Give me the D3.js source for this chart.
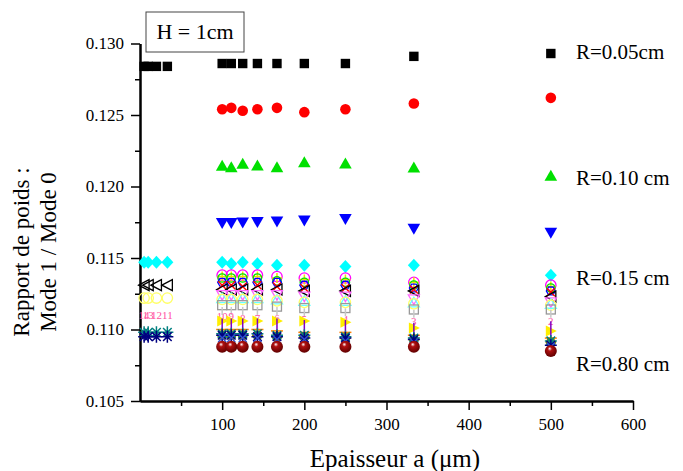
<!DOCTYPE html>
<html><head><meta charset="utf-8">
<script src="https://cdn.jsdelivr.net/npm/d3@7/dist/d3.min.js"></script>
<style>body{margin:0;background:#fff}svg{display:block}text{font-family:"Liberation Serif","Times New Roman",serif}</style>
</head><body><svg id="c" width="683" height="471"></svg>
<script>
// ---- data ----
const xValues = [5, 10, 20, 33.3, 100, 111.1, 125, 142.9, 166.7, 200, 250, 333.3, 500];
const rowNumbers = [14, 13, 12, 11, 10, 9, 8, 7, 6, 5, 4, 3, 2];
const N = null;
const sBlackSquare = [0.1284,0.1284,0.1284,0.1284, 0.1286,0.1286,0.1286,0.1286,0.1286,0.1286,0.1286,0.1291,0.1293];
const sRedCircle   = [N,N,N,N, 0.1254,0.1255,0.1253,0.1254,0.1255,0.1252,0.1254,0.1258,0.1262];
const sGreenUp     = [N,N,N,N, 0.12145,0.12135,0.12159,0.12147,0.12135,0.1217,0.12161,0.12133,0.12075];
const sBlueDown    = [N,N,N,N, 0.11744,0.11744,0.11749,0.11751,0.11756,0.11763,0.11772,0.11705,0.11677];
const sCyanDiamond = [0.1147,0.1147,0.1147,0.1147, 0.1147,0.1146,0.1147,0.1146,0.1145,0.1145,0.1144,0.1145,0.1138];
const sMagentaRing = [N,N,N,N, 0.1138,0.1138,0.1138,0.1138,0.1137,0.1136,0.1136,0.1133,0.1131];
const sYellowPlus  = [N,N,N,N, 0.1137,0.1137,0.1137,0.1137,0.1136,0.1135,0.1135,0.1133,0.1130];
const sGreenRing   = [N,N,N,N, 0.1136,0.1136,0.1136,0.1136,0.1134,0.1133,0.1133,0.1131,0.1129];
const sBlueHex     = [N,N,N,N, 0.1133,0.1133,0.1133,0.1133,0.1133,0.1131,0.1131,0.1129,0.1127];
const sRedX        = [N,N,N,N, 0.1131,0.1131,0.1130,0.1131,0.1130,0.1129,0.1129,0.1128,0.1126];
const sBlackLeft   = [0.1131,0.1131,0.1131,0.1131, 0.1128,0.1128,0.1128,0.1128,0.1128,0.1127,0.1127,0.1127,0.1123];
const sMagentaDown = [N,N,N,N, 0.1124,0.1124,0.1124,0.1124,0.1124,0.1123,0.1123,0.1121,0.1119];
const sCyanUpOpen  = [N,N,N,N, 0.1122,0.1122,0.1122,0.1122,0.1121,0.1120,0.1120,0.1119,0.1118];
const sYellowRing  = [0.1122,0.1122,0.1122,0.1122, 0.1121,0.1121,0.1121,0.1121,0.1120,0.1119,0.1119,0.1118,0.1117];
const sGraySquare  = [N,N,N,N, 0.1117,0.1117,0.1117,0.1117,0.1116,0.1115,0.1115,0.1114,0.1114];
const sLightGray   = [N,N,N,N, 0.1113,0.1113,0.1113,0.1113,0.1113,0.1112,0.1112,0.1111,0.1111];
const sPinkNumber  = [0.1110,0.1110,0.1110,0.1110, 0.1109,0.1109,0.1108,0.1108,0.1108,0.1107,0.1107,0.1106,0.1106];
const sYellowRight = [N,N,N,N, 0.1106,0.1106,0.1106,0.1106,0.1106,0.1106,0.1105,0.1101,0.1099];
const sPurpleBar   = [N,N,N,N, 0.1100,0.1100,0.1100,0.1100,0.1100,0.1099,0.1099,0.1097,0.1098];
const sOrangeBar   = [N,N,N,N, 0.1100,0.1100,0.1100,0.1100,0.1099,0.1098,0.1098,0.1096,0.1094];
const sOliveHex    = [N,N,N,N, 0.1096,0.1096,0.1096,0.1096,0.1095,0.1095,0.1094,0.1093,0.1091];
const sDarkCyanX   = [0.1098,0.1098,0.1098,0.1098, 0.1097,0.1097,0.1097,0.1097,0.1096,0.1096,0.1095,0.1094,0.1092];
const sNavyStar    = [0.1095,0.1095,0.1095,0.1095, 0.1096,0.1096,0.1096,0.1095,0.1095,0.1094,0.1094,0.1093,0.1089];
const sRoyalX      = [N,N,N,N, 0.1094,0.1094,0.1094,0.1094,0.1093,0.1093,0.1092,0.1091,0.1088];
const sWineSphere  = [N,N,N,N, 0.1088,0.1088,0.1088,0.1088,0.1088,0.1088,0.1088,0.1088,0.1085];

const yTickValues = [0.105, 0.110, 0.115, 0.120, 0.125, 0.130];
const yMinorValues = [0.1075, 0.1125, 0.1175, 0.1225, 0.1275];
const xTickValues = [100, 200, 300, 400, 500, 600];
const xMinorValues = [50, 150, 250, 350, 450, 550];
const rLabels = [
  {text: "R=0.05cm", value: 0.1294},
  {text: "R=0.10 cm", value: 0.1206},
  {text: "R=0.15 cm", value: 0.1136},
  {text: "R=0.80 cm", value: 0.1076}
];

// ---- styles (separate from data) ----
const series = [
  [sBlackSquare, "square", "#000"],
  [sRedCircle, "circle", "#ff0000"],
  [sGreenUp, "triUp", "#00e000"],
  [sBlueDown, "triDown", "#0000ff"],
  [sCyanDiamond, "diamond", "#00ffff"],
  [sMagentaRing, "ring", "#ff00ff"],
  [sYellowPlus, "plus", "#f0e000"],
  [sGreenRing, "ringSmall", "#00e000"],
  [sBlueHex, "hexOpen", "#0000ff"],
  [sRedX, "x", "#ff0000"],
  [sBlackLeft, "leftOpen", "#000"],
  [sMagentaDown, "downOpen", "#ff66ff"],
  [sCyanUpOpen, "upOpen", "#66ffff"],
  [sYellowRing, "ring", "#ffff66"],
  [sGraySquare, "squareOpen", "#999"],
  [sLightGray, "vbarShort", "#c8c8c8"],
  [sPinkNumber, "number", "#ff4fa0"],
  [sYellowRight, "rightFill", "#ffee00"],
  [sPurpleBar, "vbar", "#8000c0"],
  [sOrangeBar, "hbar", "#ff8000"],
  [sOliveHex, "hexFill", "#808000"],
  [sDarkCyanX, "star", "#008080"],
  [sNavyStar, "star", "#000080"],
  [sRoyalX, "x", "#3050d0"],
  [sWineSphere, "sphere", "#800000"]
];

const svg = d3.select("#c");
svg.append("rect").attr("width",683).attr("height",471).attr("fill","#fff");
const defs = svg.append("defs");
const grad = defs.append("radialGradient").attr("id","sph").attr("cx","0.45").attr("cy","0.4").attr("r","0.6").attr("fx","0.4").attr("fy","0.3");
grad.append("stop").attr("offset","0").attr("stop-color","#ffffff");
grad.append("stop").attr("offset","0.3").attr("stop-color","#b01010");
grad.append("stop").attr("offset","1").attr("stop-color","#600000");

const x = d3.scaleLinear().domain([0, 600]).range([140, 633]);
const y = d3.scaleLinear().domain([0.105, 0.130]).range([401, 43.5]);

// axes
function styleAxis(g){
  g.selectAll(".domain").attr("stroke","#000").attr("stroke-width",2);
  g.selectAll(".tick line").attr("stroke","#000").attr("stroke-width",1.5);
  g.selectAll("text").attr("font-family",'"Liberation Serif",serif').attr("font-size",17).attr("fill","#000");
}
const gy = svg.append("g").attr("transform","translate(140,0)")
  .call(d3.axisLeft(y).tickValues(yTickValues).tickFormat(d3.format(".3f")).tickSize(9).tickSizeOuter(0).tickPadding(7));
styleAxis(gy);
const gym = svg.append("g").attr("transform","translate(140,0)")
  .call(d3.axisLeft(y).tickValues(yMinorValues).tickFormat("").tickSize(5).tickSizeOuter(0));
styleAxis(gym);
const gx = svg.append("g").attr("transform","translate(0,401)")
  .call(d3.axisBottom(x).tickValues(xTickValues).tickFormat(d3.format("d")).tickSize(9).tickSizeOuter(0).tickPadding(8));
styleAxis(gx);
const gxm = svg.append("g").attr("transform","translate(0,401)")
  .call(d3.axisBottom(x).tickValues(xMinorValues).tickFormat("").tickSize(5).tickSizeOuter(0));
styleAxis(gxm);

// symbols
function drawSym(g, type, color, row){
  const sw = 1.3;
  switch(type){
    case "square": g.append("rect").attr("x",-4.7).attr("y",-4.7).attr("width",9.4).attr("height",9.4).attr("fill",color); break;
    case "circle": g.append("circle").attr("r",5.3).attr("fill",color); break;
    case "triUp": g.append("path").attr("d","M0,-6L6.3,5L-6.3,5Z").attr("fill",color); break;
    case "triDown": g.append("path").attr("d","M0,6L6.3,-5L-6.3,-5Z").attr("fill",color); break;
    case "diamond": g.append("path").attr("d","M0,-6.5L6,0L0,6.5L-6,0Z").attr("fill",color); break;
    case "ring": g.append("circle").attr("r",5.2).attr("fill","none").attr("stroke",color).attr("stroke-width",sw); break;
    case "ringSmall": g.append("circle").attr("r",4.2).attr("fill","none").attr("stroke",color).attr("stroke-width",sw); break;
    case "plus": g.append("path").attr("d","M-5,0H5M0,-5V5").attr("stroke",color).attr("stroke-width",1.5); break;
    case "x": g.append("path").attr("d","M-4,-4L4,4M-4,4L4,-4").attr("stroke",color).attr("stroke-width",1.4); break;
    case "hexOpen": g.append("path").attr("d",hexPath(4.5)).attr("fill","none").attr("stroke",color).attr("stroke-width",sw); break;
    case "hexFill": g.append("path").attr("d",hexPath(5.5)).attr("fill",color); break;
    case "leftOpen": g.append("path").attr("d","M-5.5,0L5,-5.5L5,5.5Z").attr("fill","none").attr("stroke",color).attr("stroke-width",sw); break;
    case "downOpen": g.append("path").attr("d","M0,5L5.5,-4.5L-5.5,-4.5Z").attr("fill","none").attr("stroke",color).attr("stroke-width",sw); break;
    case "upOpen": g.append("path").attr("d","M0,-5L5.5,4.5L-5.5,4.5Z").attr("fill","none").attr("stroke",color).attr("stroke-width",sw); break;
    case "squareOpen": g.append("rect").attr("x",-4.5).attr("y",-4.5).attr("width",9).attr("height",9).attr("fill","none").attr("stroke",color).attr("stroke-width",sw); break;
    case "vbarShort": g.append("path").attr("d","M0,-4V4").attr("stroke",color).attr("stroke-width",1.5); break;
    case "vbar": g.append("path").attr("d","M0,-11V11").attr("stroke",color).attr("stroke-width",1.5); break;
    case "hbar": g.append("path").attr("d","M-6,0H6").attr("stroke",color).attr("stroke-width",1.5); break;
    case "rightFill": g.append("path").attr("d","M6,0L-5,-5.5L-5,5.5Z").attr("fill",color); break;
    case "star": g.append("path").attr("d","M0,-6V6M-6,0H6M-4.3,-4.3L4.3,4.3M-4.3,4.3L4.3,-4.3").attr("stroke",color).attr("stroke-width",1.5); break;
    case "sphere": g.append("circle").attr("r",6).attr("fill","url(#sph)"); break;
    case "number": g.append("text").attr("text-anchor","middle").attr("dy","0.35em").attr("font-size",11).attr("fill",color).text(row); break;
  }
}
function hexPath(r){
  const pts = d3.range(6).map(i => { const a = Math.PI/3*i; return [r*Math.cos(a), r*Math.sin(a)]; });
  return "M" + pts.map(p => p.join(",")).join("L") + "Z";
}

const plot = svg.append("g");
series.forEach(([vals, type, color]) => {
  const pts = vals.map((v, i) => ({x: xValues[i], v, row: rowNumbers[i]})).filter(d => d.v != null);
  plot.selectAll(null).data(pts).enter().append("g")
    .attr("transform", d => `translate(${x(d.x)},${y(d.v)})`)
    .each(function(d){ drawSym(d3.select(this), type, color, d.row); });
});

// annotations
svg.append("rect").attr("x",146).attr("y",12).attr("width",98).attr("height",40)
  .attr("fill","#fff").attr("stroke","#444").attr("stroke-width",1);
svg.append("text").attr("x",195).attr("y",39).attr("text-anchor","middle").attr("font-size",22).text("H = 1cm");
rLabels.forEach(l => {
  svg.append("text").attr("x",576).attr("y",y(l.value)).attr("dy","0.33em").attr("font-size",21).text(l.text);
});

// axis titles
svg.append("text").attr("x",395).attr("y",467).attr("text-anchor","middle").attr("font-size",25).text("Epaisseur a (\u03bcm)");
const yt = svg.append("text").attr("transform","translate(0,252) rotate(-90)").attr("text-anchor","middle").attr("font-size",23);
yt.append("tspan").attr("x",0).attr("y",29).text("Rapport de poids :");
yt.append("tspan").attr("x",0).attr("y",56).text("Mode 1 / Mode 0");
</script></body></html>
